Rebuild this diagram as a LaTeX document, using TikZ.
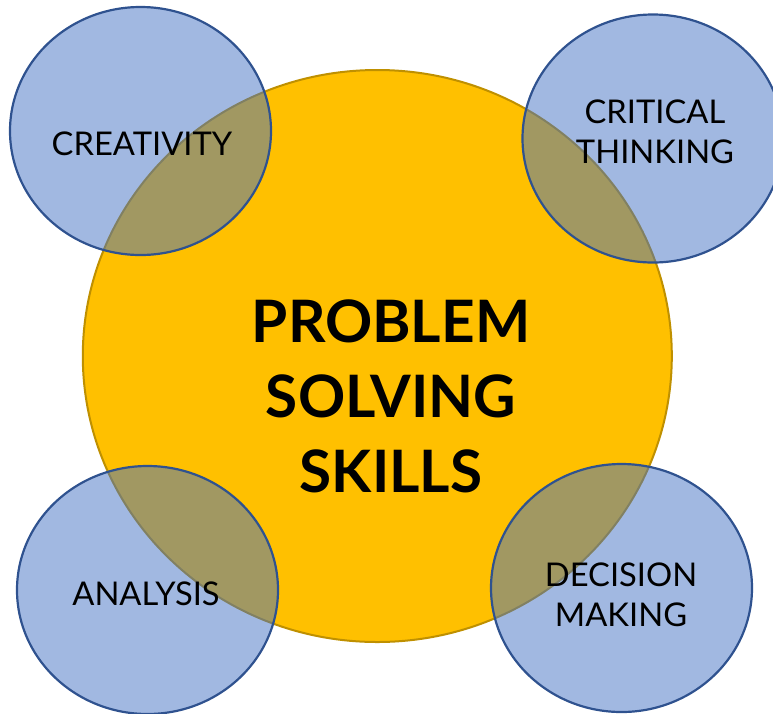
\documentclass[tikz,border=0pt]{standalone}
\usepackage{fontspec}
\setmainfont{Lato}
\usetikzlibrary{shapes.geometric}
\definecolor{gold}{HTML}{FFC000}
\definecolor{golddark}{HTML}{BF9000}
\definecolor{skyblue}{HTML}{4472C4}
\definecolor{blueedge}{HTML}{2F528F}
\tikzset{
  bigcirc/.style={ellipse, inner sep=0pt, minimum width=589pt, minimum height=572pt,
    fill=gold, draw=golddark, line width=2pt},
  smallcirc/.style={ellipse, inner sep=0pt, minimum width=261pt, minimum height=248pt,
    fill=skyblue, fill opacity=0.5, draw=blueedge, draw opacity=1, line width=2.2pt},
  lbl/.style={align=center, inner sep=0pt, text=black,
    font=\fontsize{32.7}{40}\selectfont},
  biglbl/.style={align=center, inner sep=0pt, text=black,
    font=\fontsize{58.5}{75}\selectfont\bfseries}
}
\begin{document}
\begin{tikzpicture}[x=1pt, y=-1pt]
\useasboundingbox (0,0) rectangle (773,713);
\node[bigcirc] (big) at (377.3,356) {};
\node[smallcirc] (c1) at (140.5,131) {};
\node[smallcirc] (c2) at (653,138.5) {};
\node[smallcirc] (c3) at (147.5,590) {};
\node[smallcirc] (c4) at (621.5,588) {};
\node[biglbl] (tbig) at (391,396) {PROBLEM\\SOLVING\\SKILLS};
\node[lbl] (t1) at (142,143.5) {CREATIVITY};
\node[lbl] (t2) at (655,132) {CRITICAL\\THINKING};
\node[lbl] (t3) at (146,593.5) {ANALYSIS};
\node[lbl] (t4) at (621,594.5) {DECISION\\MAKING};
\end{tikzpicture}
\end{document}
